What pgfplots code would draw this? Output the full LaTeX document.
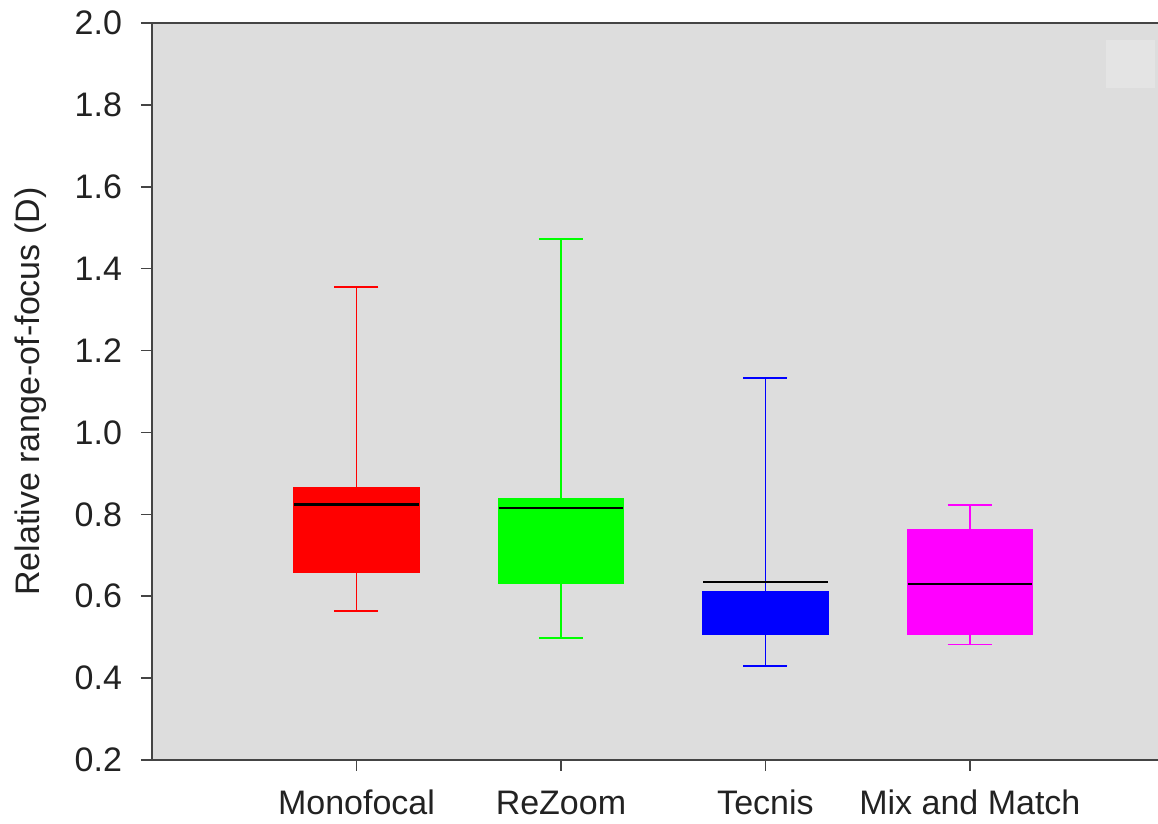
\documentclass[border=0pt]{standalone}
\usepackage{pgfplots}
\pgfplotsset{compat=1.18}
\usepgfplotslibrary{statistics}
\usepackage{fontspec}
\setmainfont{Liberation Sans}
\definecolor{bg}{HTML}{DDDDDD}
\definecolor{lg}{HTML}{E4E4E4}
\definecolor{axc}{HTML}{444444}
\definecolor{txt}{HTML}{222222}
\definecolor{cR}{HTML}{FF0000}
\definecolor{cG}{HTML}{00FF00}
\definecolor{cB}{HTML}{0000FF}
\definecolor{cM}{HTML}{FF00FF}
\begin{document}
\begin{tikzpicture}
\begin{axis}[name=ax,
  scale only axis, width=503pt, height=368.5pt,
  xmin=0, xmax=4.92, ymin=0.2, ymax=2.0,
  axis x line*=box, axis y line*=left,
  axis line style={axc, line width=1pt},
  axis background/.style={fill=bg},
  xtick={1,2,3,4},
  xticklabels={Monofocal,ReZoom,Tecnis,Mix and Match},
  xtick pos=bottom, ytick pos=left,
  ytick={0.2,0.4,0.6,0.8,1.0,1.2,1.4,1.6,1.8,2.0},
  /pgf/number format/fixed, /pgf/number format/fixed zerofill,
  /pgf/number format/precision=1, /pgf/number format/assume math mode=true,
  tick align=outside, major tick length=5.5pt,
  tick style={axc, line width=0.8pt},
  ticklabel style={font=\fontsize{17}{20}\selectfont, text=txt},
  yticklabel style={xshift=-6pt},
  xticklabel style={anchor=base, yshift=-22pt},
  ylabel={Relative range-of-focus (D)},
  every axis y label/.style={at={(axis description cs:-0.1203,0.5)}, rotate=90, anchor=center, font=\fontsize{17}{20}\selectfont, text=txt},
  boxplot/draw direction=y,
  boxplot/box extend=0.61,
  boxplot/whisker extend=0.215,
  boxplot/every median/.style={draw=black, line width=1.3pt},
  clip=false,
]
\fill[lg] (axis cs:4.664,1.841) rectangle (axis cs:4.903,1.958);
\addplot[draw=cR, fill=cR, line width=0.9pt, boxplot prepared={draw position=1,
  lower whisker=0.564, lower quartile=0.658, median=0.824, upper quartile=0.865, upper whisker=1.355}]
  coordinates {};
\addplot[draw=cG, fill=cG, line width=0.9pt, boxplot prepared={draw position=2,
  lower whisker=0.497, lower quartile=0.633, median=0.815, upper quartile=0.837, upper whisker=1.472}]
  coordinates {};
\addplot[draw=cB, fill=cB, line width=0.9pt, boxplot prepared={draw position=3,
  lower whisker=0.430, lower quartile=0.507, median=0.635, upper quartile=0.611, upper whisker=1.133}]
  coordinates {};
\addplot[draw=cM, fill=cM, line width=0.9pt, boxplot prepared={draw position=4,
  lower whisker=0.482, lower quartile=0.507, median=0.630, upper quartile=0.763, upper whisker=0.823}]
  coordinates {};
\end{axis}
\pgfresetboundingbox
\path[use as bounding box] ([shift={(-76pt,-32pt)}]ax.south west) rectangle ([shift={(0pt,11.5pt)}]ax.north east);
\end{tikzpicture}
\end{document}
